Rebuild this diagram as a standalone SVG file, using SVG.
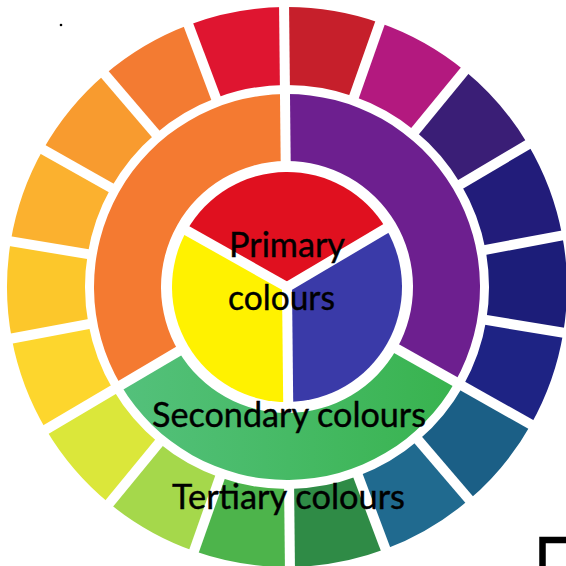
<svg xmlns="http://www.w3.org/2000/svg" width="566" height="566" viewBox="0 0 566 566">
<style>
.sep{stroke:#ffffff;stroke-width:10;fill:none}
.lbl{font-family:Lato,"Open Sans","Liberation Sans",sans-serif;font-size:34px;fill:#000000;stroke:#000000;stroke-width:0.4;text-anchor:middle}
</style>
<defs>
<linearGradient id="gr" gradientUnits="userSpaceOnUse" x1="94" y1="0" x2="480" y2="0">
<stop offset="0" stop-color="#56c27f"/>
<stop offset="1" stop-color="#36b24b"/>
</linearGradient>
</defs>
<rect width="566" height="566" fill="#ffffff"/>
<circle cx="61" cy="25" r="1.3" fill="#000000"/>
<g id="wheel" transform="rotate(-0.6 287 287)">
<g id="tertiary-ring">
<path fill="#c61f2b" d="M287 7A280 280 0 0 1 382.77 23.89L356.09 97.18A202 202 0 0 0 287 85Z"/>
<path fill="#b3197f" d="M382.77 23.89A280 280 0 0 1 466.98 72.51L416.84 132.26A202 202 0 0 0 356.09 97.18Z"/>
<path fill="#3a1e76" d="M466.98 72.51A280 280 0 0 1 529.49 147L461.94 186A202 202 0 0 0 416.84 132.26Z"/>
<path fill="#221c7a" d="M529.49 147A280 280 0 0 1 562.75 238.38L485.93 251.92A202 202 0 0 0 461.94 186Z"/>
<path fill="#1c1d79" d="M562.75 238.38A280 280 0 0 1 562.75 335.62L485.93 322.08A202 202 0 0 0 485.93 251.92Z"/>
<path fill="#1e2384" d="M562.75 335.62A280 280 0 0 1 529.49 427L461.94 388A202 202 0 0 0 485.93 322.08Z"/>
<path fill="#1b5f86" d="M529.49 427A280 280 0 0 1 466.98 501.49L416.84 441.74A202 202 0 0 0 461.94 388Z"/>
<path fill="#206a8f" d="M466.98 501.49A280 280 0 0 1 382.77 550.11L356.09 476.82A202 202 0 0 0 416.84 441.74Z"/>
<path fill="#2f8b46" d="M382.77 550.11A280 280 0 0 1 287 567L287 489A202 202 0 0 0 356.09 476.82Z"/>
<path fill="#4db44b" d="M287 567A280 280 0 0 1 191.23 550.11L217.91 476.82A202 202 0 0 0 287 489Z"/>
<path fill="#a5d84b" d="M191.23 550.11A280 280 0 0 1 107.02 501.49L157.16 441.74A202 202 0 0 0 217.91 476.82Z"/>
<path fill="#dbe73a" d="M107.02 501.49A280 280 0 0 1 44.51 427L112.06 388A202 202 0 0 0 157.16 441.74Z"/>
<path fill="#fdd62d" d="M44.51 427A280 280 0 0 1 11.25 335.62L88.07 322.08A202 202 0 0 0 112.06 388Z"/>
<path fill="#fcc72b" d="M11.25 335.62A280 280 0 0 1 11.25 238.38L88.07 251.92A202 202 0 0 0 88.07 322.08Z"/>
<path fill="#fbb12f" d="M11.25 238.38A280 280 0 0 1 44.51 147L112.06 186A202 202 0 0 0 88.07 251.92Z"/>
<path fill="#f89b2f" d="M44.51 147A280 280 0 0 1 107.02 72.51L157.16 132.26A202 202 0 0 0 112.06 186Z"/>
<path fill="#f37b32" d="M107.02 72.51A280 280 0 0 1 191.23 23.89L217.91 97.18A202 202 0 0 0 157.16 132.26Z"/>
<path fill="#df1530" d="M191.23 23.89A280 280 0 0 1 287 7L287 85A202 202 0 0 0 217.91 97.18Z"/>
</g>
<g id="secondary-ring">
<path fill="#6d1f8f" d="M287 94A193 193 0 0 1 454.14 383.5L396.12 350A126 126 0 0 0 287 161Z"/>
<path fill="url(#gr)" d="M454.14 383.5A193 193 0 0 1 119.86 383.5L177.88 350A126 126 0 0 0 396.12 350Z"/>
<path fill="#f47a31" d="M119.86 383.5A193 193 0 0 1 287 94L287 161A126 126 0 0 0 177.88 350Z"/>
</g>
<g id="primary-pie">
<path fill="#e0101f" d="M287 287L187.41 229.5A115 115 0 0 1 386.59 229.5Z"/>
<path fill="#3a3aa8" d="M287 287L386.59 229.5A115 115 0 0 1 287 402Z"/>
<path fill="#fff200" d="M287 287L287 402A115 115 0 0 1 187.41 229.5Z"/>
</g>
<g id="separators">
<line class="sep" x1="287" y1="-5" x2="287" y2="93" transform="rotate(0 287 287)"/>
<line class="sep" x1="287" y1="-5" x2="287" y2="93" transform="rotate(20 287 287)"/>
<line class="sep" x1="287" y1="-5" x2="287" y2="93" transform="rotate(40 287 287)"/>
<line class="sep" x1="287" y1="-5" x2="287" y2="93" transform="rotate(60 287 287)"/>
<line class="sep" x1="287" y1="-5" x2="287" y2="93" transform="rotate(80 287 287)"/>
<line class="sep" x1="287" y1="-5" x2="287" y2="93" transform="rotate(100 287 287)"/>
<line class="sep" x1="287" y1="-5" x2="287" y2="93" transform="rotate(120 287 287)"/>
<line class="sep" x1="287" y1="-5" x2="287" y2="93" transform="rotate(140 287 287)"/>
<line class="sep" x1="287" y1="-5" x2="287" y2="93" transform="rotate(160 287 287)"/>
<line class="sep" x1="287" y1="-5" x2="287" y2="93" transform="rotate(180 287 287)"/>
<line class="sep" x1="287" y1="-5" x2="287" y2="93" transform="rotate(200 287 287)"/>
<line class="sep" x1="287" y1="-5" x2="287" y2="93" transform="rotate(220 287 287)"/>
<line class="sep" x1="287" y1="-5" x2="287" y2="93" transform="rotate(240 287 287)"/>
<line class="sep" x1="287" y1="-5" x2="287" y2="93" transform="rotate(260 287 287)"/>
<line class="sep" x1="287" y1="-5" x2="287" y2="93" transform="rotate(280 287 287)"/>
<line class="sep" x1="287" y1="-5" x2="287" y2="93" transform="rotate(300 287 287)"/>
<line class="sep" x1="287" y1="-5" x2="287" y2="93" transform="rotate(320 287 287)"/>
<line class="sep" x1="287" y1="-5" x2="287" y2="93" transform="rotate(340 287 287)"/>
<line class="sep" x1="287" y1="90" x2="287" y2="168" transform="rotate(0 287 287)"/>
<line class="sep" x1="287" y1="90" x2="287" y2="168" transform="rotate(120 287 287)"/>
<line class="sep" x1="287" y1="90" x2="287" y2="168" transform="rotate(240 287 287)"/>
<line class="sep" x1="287" y1="287" x2="287" y2="168" transform="rotate(60 287 287)"/>
<line class="sep" x1="287" y1="287" x2="287" y2="168" transform="rotate(180 287 287)"/>
<line class="sep" x1="287" y1="287" x2="287" y2="168" transform="rotate(300 287 287)"/>
</g>
</g>
<g id="labels">
<text class="lbl" x="287" y="257" textLength="116" lengthAdjust="spacingAndGlyphs">Primary</text>
<text class="lbl" x="281.5" y="310" textLength="107" lengthAdjust="spacingAndGlyphs">colours</text>
<text class="lbl" x="289" y="427" textLength="274" lengthAdjust="spacingAndGlyphs">Secondary colours</text>
<text class="lbl" x="288.5" y="509" textLength="233" lengthAdjust="spacingAndGlyphs">Tertiary colours</text>
</g>
<path d="M542.5 566V540H566" fill="none" stroke="#000000" stroke-width="6.5"/>
</svg>
